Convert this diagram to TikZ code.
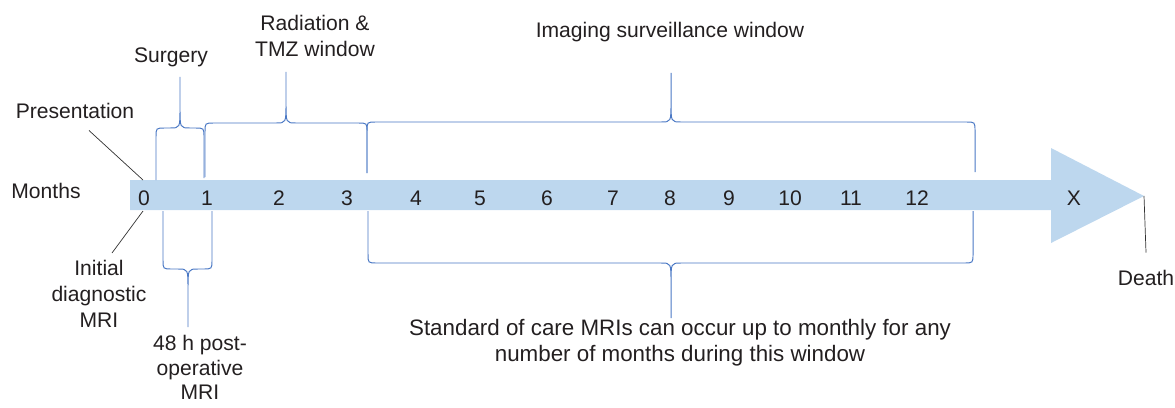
\documentclass[tikz,border=0pt]{standalone}
\usepackage{fontspec}
\setmainfont{Liberation Sans}
\definecolor{Bar}{HTML}{BDD7EE}
\definecolor{BraceBlue}{HTML}{4A78C4}
\definecolor{Ink}{HTML}{231F20}
\definecolor{Lead}{HTML}{333333}
% window brace: left foot, right foot, level of the bar, tip x, tip end
\newcommand{\winbrace}[7]{%
\draw[brace] (#1,#2) -- (#1,{#5+9*sign(#2-#5)}) .. controls (#1,#5) .. ({#1+9},#5) -- ({#6-10},#5) .. controls (#6,#5) .. (#6,{#5-20*sign(#2-#5)}) -- (#6,#7)
 (#3,#4) -- (#3,{#5+9*sign(#4-#5)}) .. controls (#3,#5) .. ({#3-9},#5) -- ({#6+10},#5) .. controls (#6,#5) .. (#6,{#5-20*sign(#2-#5)});}

\begin{document}
\begin{tikzpicture}[x=.025cm,y=-.025cm,every node/.style={font=\fontsize{15}{18.5}\selectfont,text=Ink,inner sep=0pt},brace/.style={draw=BraceBlue,line width=.7pt},lead/.style={draw=Lead,line width=.5pt}]
\useasboundingbox (0,0) rectangle (1175,407);
% timeline arrow
\fill[Bar] (130,180) -- (1051,180) -- (1051,148) -- (1144,196) -- (1051,243) -- (1051,210) -- (130,210) -- cycle;
\coordinate (tip) at (1144,196);
\coordinate (top0) at (143,180);
\coordinate (bot0) at (143,211);
\foreach \x/\m in {144/0,207/1,279/2,347/3,416/4,480/5,547/6,613/7,670/8,729/9,790/10,851/11,917/12,1074/X}
  \node[anchor=base] (m\m) at (\x,205) {\m};
\node[anchor=base] (months) at (46,198) {Months};
% labels
\node[anchor=base] (pres) at (75,118) {Presentation};
\node[anchor=north,align=center] (initial) at (99,260) {Initial\\diagnostic\\MRI};
\node[anchor=base] (surgery) at (171,63) {Surgery};
\node[anchor=north,align=center] (radtmz) at (315,15) {Radiation \&\\TMZ window};
\node[anchor=base] (imaging) at (670,38) {Imaging surveillance window};
\node[anchor=north,align=center,font=\fontsize{15}{17.5}\selectfont] (postop) at (200,335) {48 h post-\\operative\\MRI};
\node[anchor=north,align=center,font=\fontsize{15.9}{18.5}\selectfont] (soc) at (680,319) {Standard of care MRIs can occur up to monthly for any\\number of months during this window};
\node[anchor=base] (death) at (1146,285) {Death};
\draw[lead] ([shift={(14,12)}]pres.south) -- (top0);
\draw[lead] ([shift={(13,-7)}]initial.north) -- (bot0);
\draw[lead] (tip) -- ([yshift=12pt]death.north);
% windows
\winbrace{156}{180}{204}{178}{128}{180}{77}
\winbrace{205}{177}{367}{173}{123}{286}{72}
\winbrace{367}{173}{975}{172}{122}{671}{73}
\winbrace{163}{211}{212}{211}{269}{188}{327}
\winbrace{368}{211}{973}{211}{263}{671}{318}
\end{tikzpicture}
\end{document}
